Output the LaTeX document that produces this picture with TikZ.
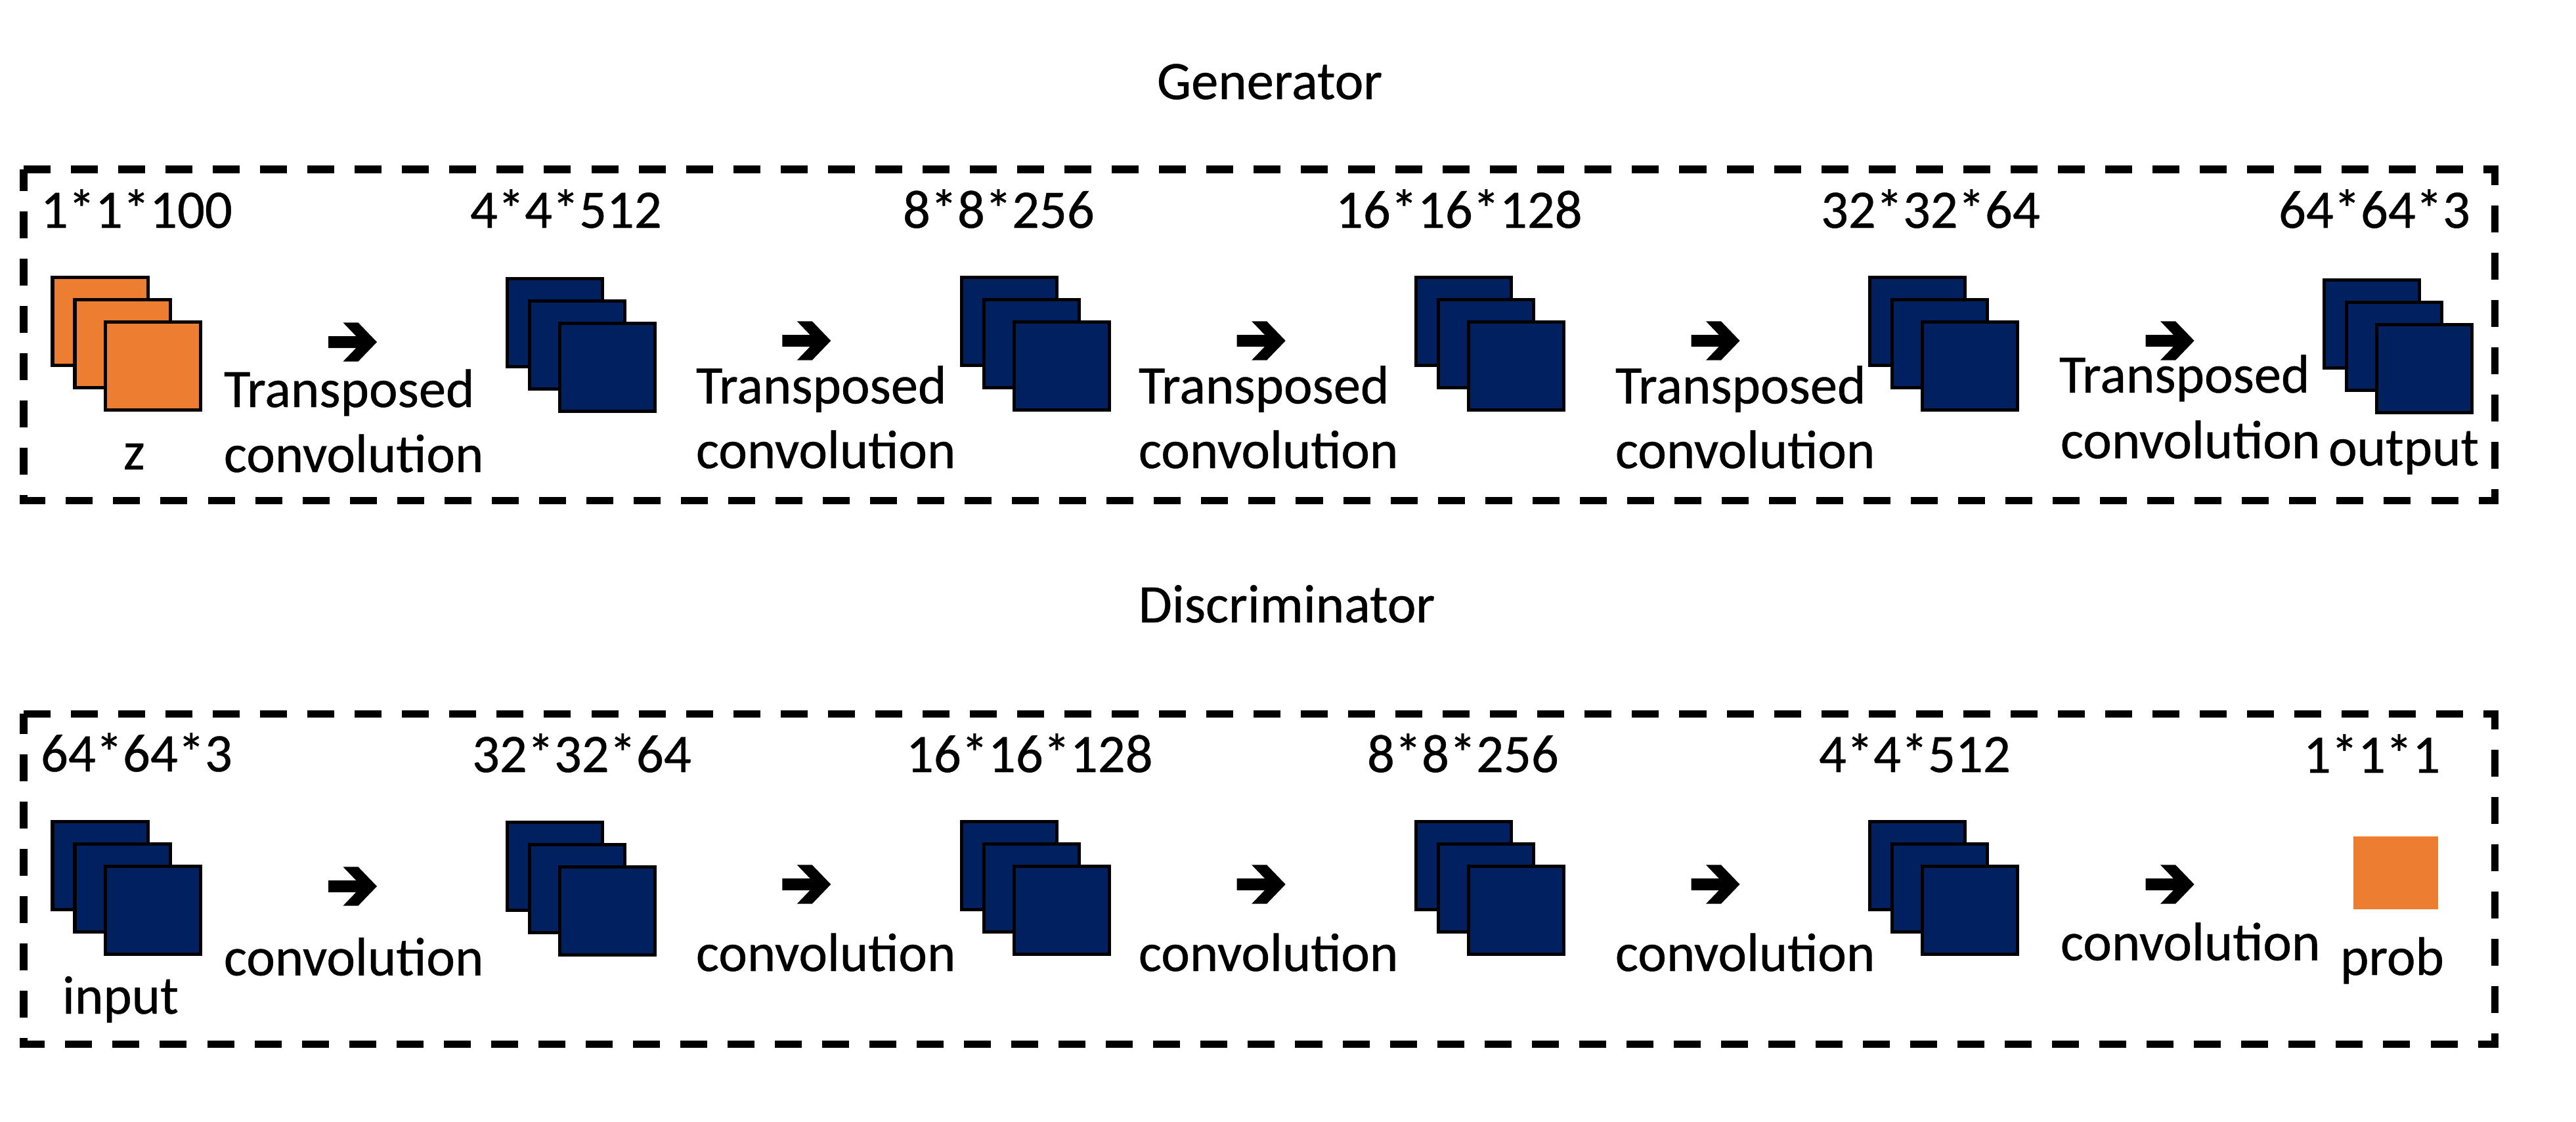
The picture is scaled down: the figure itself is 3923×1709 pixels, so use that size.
\documentclass[tikz,border=0pt]{standalone}
\usepackage{fontspec}
\setmainfont{Carlito}
\newfontfamily\labfont[FakeBold=0.5]{Carlito}
\definecolor{navy}{HTML}{002060}
\definecolor{orng}{HTML}{ED7D31}
\tikzset{
 fmap/.style={draw=black, line width=0.05cm, rectangle, inner sep=0pt, outer sep=0pt,
   minimum width=1.45cm, minimum height=1.34cm, anchor=north west},
 lbl/.style={inner sep=0pt, outer sep=0pt, anchor=base west,
   font=\labfont\fontsize{23.5pt}{28pt}\selectfont},
 dashbox/.style={draw=black, line width=0.11cm, dash pattern=on 0.41cm off 0.31cm},
 fatarrow/.pic={\fill[black] (0,-9) -- (42.3,-9) -- (22.4,-29.7) -- (45.4,-29.7) -- (74,0)
   -- (45.4,29.7) -- (22.4,29.7) -- (42.3,9) -- (0,9) -- cycle;}
}
\newcommand\fmstack[4]{%
  \node[fmap, fill=#4] (#1a) at ({#2+2.5},{#3+2.5}) {};
  \node[fmap, fill=#4] (#1b) at ({#2+36.5},{#3+36.5}) {};
  \node[fmap, fill=#4] (#1c) at ({#2+82.5},{#3+70.5}) {};
}
\begin{document}
\begin{tikzpicture}[x=0.01cm, y=-0.01cm]
\useasboundingbox (0,0) rectangle (3923,1709);
\fill[white] (0,0) rectangle (3923,1709);

% titles
\node[lbl] (gtitle) at (1762,151) {Generator};
\node[lbl] (dtitle) at (1734,948) {Discriminator};

% boxes
\draw[dashbox] (36,258) -- (3799,258) -- (3799,762) -- (36,762) -- cycle;
\draw[dashbox] (36,1087) -- (3799,1087) -- (3799,1590) -- (36,1590) -- cycle;

% generator stacks
\fmstack{g1}{77.5}{420}{orng}
\fmstack{g2}{770}{421.5}{navy}
\fmstack{g3}{1462}{419.5}{navy}
\fmstack{g4}{2154}{419.5}{navy}
\fmstack{g5}{2845}{419.5}{navy}
\fmstack{g6}{3537}{424}{navy}

% generator arrows
\pic at (500,521) {fatarrow};
\pic at (1191.3,519) {fatarrow};
\pic at (1883.7,519) {fatarrow};
\pic at (2575.5,519) {fatarrow};
\pic at (3267.6,519) {fatarrow};

% generator labels
\node[lbl] (gs1) at (62,347) {1*1*100};
\node[lbl] (gs2) at (716,347) {4*4*512};
\node[lbl] (gs3) at (1375,347) {8*8*256};
\node[lbl] (gs4) at (2034,347) {16*16*128};
\node[lbl] (gs5) at (2773,347) {32*32*64};
\node[lbl] (gs6) at (3470,347) {64*64*3};

\node[lbl] (gz) at (188,715) {z};
\node[lbl] (gout) at (3546,709) {output};

\node[lbl] (gt1) at (341,620) {Transposed};
\node[lbl] (gc1) at (341,719) {convolution};
\node[lbl] (gt2) at (1060,614.5) {Transposed};
\node[lbl] (gc2) at (1060,713) {convolution};
\node[lbl] (gt3) at (1734,614.5) {Transposed};
\node[lbl] (gc3) at (1734,713) {convolution};
\node[lbl] (gt4) at (2460,614.5) {Transposed};
\node[lbl] (gc4) at (2460,713) {convolution};
\node[lbl] (gt5) at (3136,598) {Transposed};
\node[lbl] (gc5) at (3138,698) {convolution};

% discriminator stacks
\fmstack{d1}{77.5}{1249}{navy}
\fmstack{d2}{770}{1250}{navy}
\fmstack{d3}{1462}{1249}{navy}
\fmstack{d4}{2154}{1249}{navy}
\fmstack{d5}{2845}{1249}{navy}
\node[fill=orng, inner sep=0pt, outer sep=0pt, minimum width=1.29cm, minimum height=1.11cm,
  anchor=north west] (dprob) at (3584,1274) {};

% discriminator arrows
\pic at (500,1350) {fatarrow};
\pic at (1191.3,1347) {fatarrow};
\pic at (1883.7,1347) {fatarrow};
\pic at (2575.5,1347) {fatarrow};
\pic at (3267.6,1347) {fatarrow};

% discriminator labels
\node[lbl] (ds1) at (62,1175) {64*64*3};
\node[lbl] (ds2) at (719,1176) {32*32*64};
\node[lbl] (ds3) at (1380,1176) {16*16*128};
\node[lbl] (ds4) at (2082,1176) {8*8*256};
\node[lbl] (ds5) at (2770,1176) {4*4*512};
\node[lbl] (ds6) at (3508,1177) {1*1*1};

\node[lbl] (din) at (95,1544) {input};
\node[lbl] (dpr) at (3564,1485) {prob};

\node[lbl] (dc1) at (341,1485.6) {convolution};
\node[lbl] (dc2) at (1060,1479) {convolution};
\node[lbl] (dc3) at (1734,1479) {convolution};
\node[lbl] (dc4) at (2460,1479) {convolution};
\node[lbl] (dc5) at (3138,1462.6) {convolution};
\end{tikzpicture}
\end{document}
